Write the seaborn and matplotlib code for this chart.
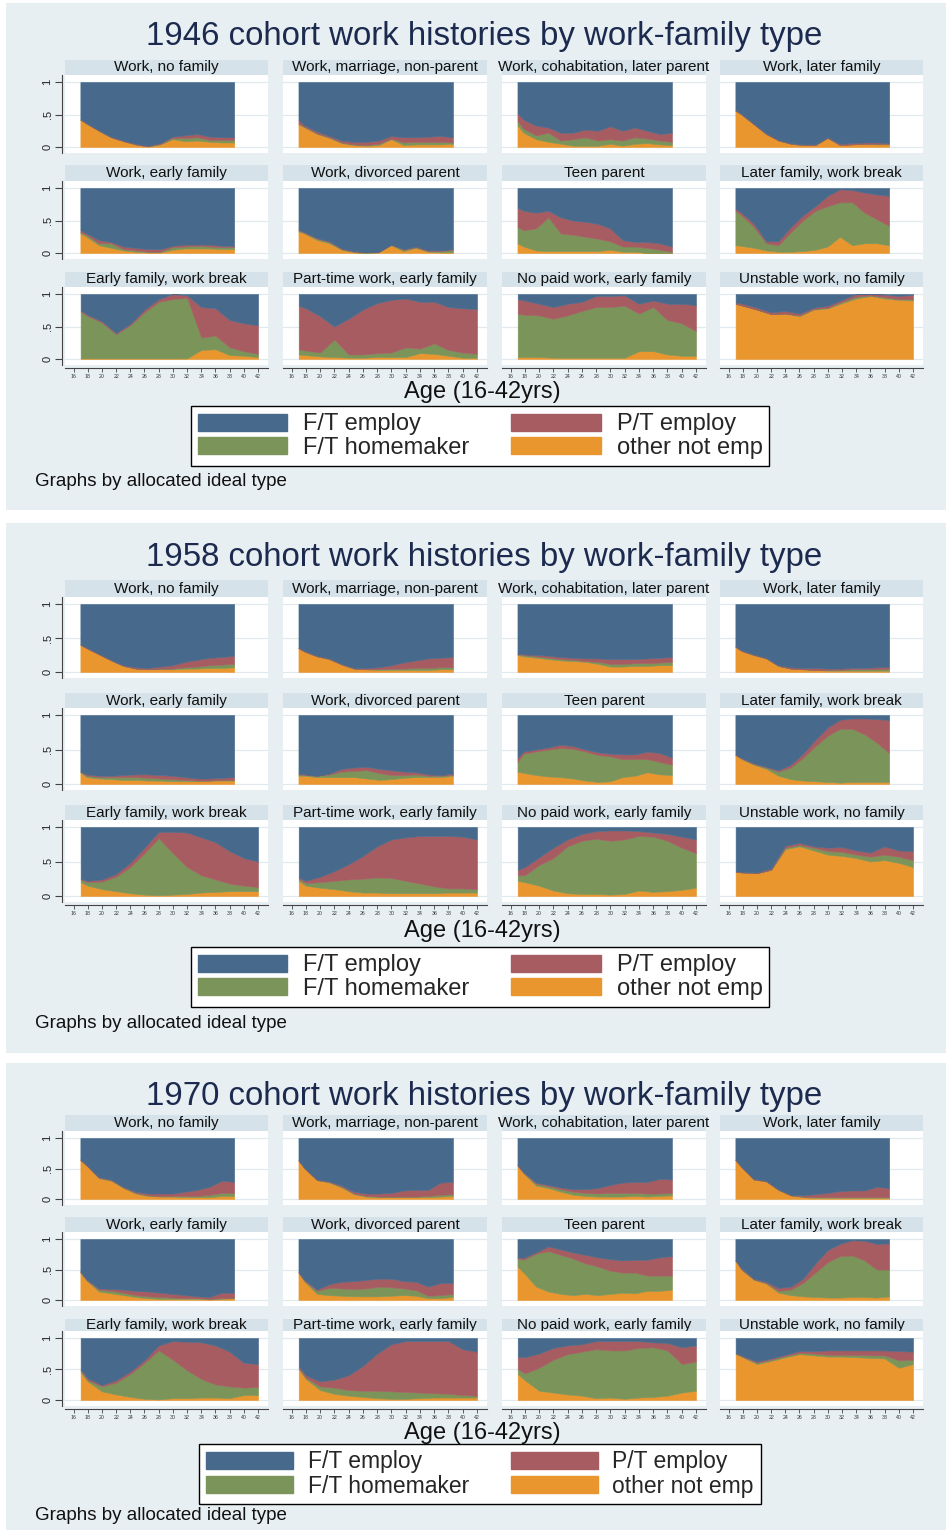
import numpy as np
import matplotlib
matplotlib.use("Agg")
import matplotlib.pyplot as plt
from matplotlib.patches import Rectangle, Patch
import seaborn as sns

sns.set_theme(style="white")
plt.rcParams['font.family'] = ['Liberation Sans', 'DejaVu Sans']

W, H = 948, 1532

# ---- data -------------------------------------------------------------
AGES = [17, 18, 20, 22, 24, 26, 28, 30, 32, 34, 36, 38, 40, 42]
XTICKS = list(range(16, 43, 2))
COHORTS = [1946, 1958, 1970]
TYPES = ["Work, no family", "Work, marriage, non-parent",
         "Work, cohabitation, later parent", "Work, later family",
         "Work, early family", "Work, divorced parent",
         "Teen parent", "Later family, work break",
         "Early family, work break", "Part-time work, early family",
         "No paid work, early family", "Unstable work, no family"]
LABELS = ["F/T employ", "F/T homemaker", "P/T employ", "other not emp"]

# shares by age, one row per type (F/T employ is the remainder up to 1)
OTHER_1946 = [
    [0.42, 0.36, 0.25, 0.15, 0.09, 0.04, 0.01, 0.04, 0.12, 0.09, 0.10, 0.08, 0.07, 0.07],
    [0.35, 0.30, 0.20, 0.14, 0.06, 0.03, 0.02, 0.03, 0.12, 0.03, 0.04, 0.04, 0.04, 0.05],
    [0.33, 0.22, 0.12, 0.08, 0.05, 0.02, 0.02, 0.02, 0.05, 0.02, 0.05, 0.06, 0.04, 0.03],
    [0.56, 0.50, 0.35, 0.20, 0.10, 0.05, 0.03, 0.03, 0.14, 0.03, 0.04, 0.05, 0.04, 0.04],
    [0.30, 0.25, 0.12, 0.08, 0.04, 0.02, 0.01, 0.01, 0.05, 0.07, 0.07, 0.07, 0.06, 0.06],
    [0.33, 0.30, 0.20, 0.15, 0.05, 0.01, 0.00, 0.01, 0.12, 0.03, 0.08, 0.02, 0.01, 0.01],
    [0.15, 0.10, 0.04, 0.03, 0.03, 0.03, 0.03, 0.03, 0.05, 0.02, 0.02, 0.00, 0.00, 0.00],
    [0.12, 0.11, 0.08, 0.04, 0.02, 0.02, 0.03, 0.05, 0.10, 0.25, 0.12, 0.15, 0.15, 0.12],
    [0.01, 0.01, 0.01, 0.01, 0.01, 0.01, 0.01, 0.01, 0.01, 0.14, 0.15, 0.06, 0.05, 0.03],
    [0.07, 0.06, 0.04, 0.03, 0.02, 0.02, 0.03, 0.03, 0.03, 0.09, 0.08, 0.05, 0.02, 0.02],
    [0.03, 0.03, 0.03, 0.02, 0.02, 0.02, 0.02, 0.02, 0.02, 0.12, 0.12, 0.07, 0.05, 0.05],
    [0.85, 0.82, 0.76, 0.69, 0.70, 0.66, 0.76, 0.78, 0.86, 0.93, 0.97, 0.93, 0.91, 0.90],
]
HOME_1946 = [
    [0.00, 0.00, 0.00, 0.00, 0.00, 0.00, 0.00, 0.01, 0.02, 0.05, 0.05, 0.03, 0.04, 0.04],
    [0.01, 0.01, 0.01, 0.01, 0.01, 0.01, 0.01, 0.02, 0.01, 0.04, 0.04, 0.04, 0.04, 0.02],
    [0.07, 0.06, 0.06, 0.14, 0.05, 0.10, 0.13, 0.08, 0.07, 0.08, 0.10, 0.07, 0.06, 0.05],
    [0.00, 0.00, 0.00, 0.00, 0.00, 0.00, 0.00, 0.00, 0.00, 0.00, 0.00, 0.00, 0.01, 0.01],
    [0.02, 0.03, 0.03, 0.07, 0.02, 0.02, 0.01, 0.01, 0.04, 0.03, 0.04, 0.03, 0.03, 0.03],
    [0.02, 0.01, 0.02, 0.02, 0.01, 0.01, 0.01, 0.01, 0.01, 0.02, 0.01, 0.01, 0.02, 0.04],
    [0.25, 0.25, 0.34, 0.52, 0.27, 0.25, 0.22, 0.19, 0.13, 0.08, 0.08, 0.08, 0.05, 0.02],
    [0.53, 0.47, 0.32, 0.11, 0.10, 0.30, 0.47, 0.60, 0.62, 0.53, 0.66, 0.47, 0.37, 0.30],
    [0.72, 0.65, 0.55, 0.37, 0.51, 0.71, 0.87, 0.91, 0.93, 0.19, 0.21, 0.12, 0.07, 0.05],
    [0.08, 0.07, 0.06, 0.27, 0.05, 0.05, 0.06, 0.07, 0.15, 0.07, 0.16, 0.09, 0.08, 0.06],
    [0.67, 0.65, 0.64, 0.60, 0.65, 0.72, 0.78, 0.78, 0.80, 0.58, 0.68, 0.53, 0.50, 0.38],
    [0.00, 0.00, 0.00, 0.00, 0.00, 0.01, 0.01, 0.01, 0.02, 0.03, 0.01, 0.02, 0.01, 0.02],
]
PT_1946 = [
    [0.01, 0.01, 0.01, 0.01, 0.01, 0.01, 0.01, 0.01, 0.02, 0.04, 0.05, 0.05, 0.04, 0.04],
    [0.06, 0.02, 0.03, 0.02, 0.03, 0.04, 0.05, 0.05, 0.04, 0.08, 0.07, 0.08, 0.09, 0.08],
    [0.12, 0.14, 0.15, 0.08, 0.12, 0.10, 0.12, 0.15, 0.20, 0.15, 0.15, 0.12, 0.10, 0.14],
    [0.01, 0.01, 0.01, 0.01, 0.01, 0.01, 0.01, 0.01, 0.01, 0.02, 0.02, 0.02, 0.02, 0.01],
    [0.03, 0.02, 0.05, 0.02, 0.04, 0.04, 0.04, 0.04, 0.02, 0.03, 0.02, 0.03, 0.02, 0.02],
    [0.01, 0.01, 0.01, 0.01, 0.01, 0.01, 0.00, 0.00, 0.00, 0.01, 0.01, 0.01, 0.01, 0.01],
    [0.30, 0.30, 0.24, 0.10, 0.25, 0.22, 0.23, 0.23, 0.20, 0.10, 0.07, 0.09, 0.10, 0.08],
    [0.03, 0.04, 0.05, 0.03, 0.06, 0.08, 0.08, 0.07, 0.16, 0.20, 0.19, 0.31, 0.38, 0.46],
    [0.02, 0.02, 0.02, 0.02, 0.02, 0.04, 0.04, 0.08, 0.04, 0.47, 0.42, 0.42, 0.43, 0.44],
    [0.67, 0.65, 0.56, 0.20, 0.55, 0.69, 0.77, 0.81, 0.75, 0.72, 0.64, 0.66, 0.68, 0.69],
    [0.22, 0.22, 0.18, 0.18, 0.18, 0.14, 0.17, 0.17, 0.16, 0.15, 0.10, 0.25, 0.30, 0.40],
    [0.02, 0.03, 0.03, 0.03, 0.04, 0.03, 0.02, 0.03, 0.03, 0.04, 0.02, 0.04, 0.05, 0.07],
]

OTHER_1958 = [
    [0.40, 0.35, 0.26, 0.17, 0.09, 0.05, 0.04, 0.04, 0.04, 0.05, 0.05, 0.06, 0.06, 0.07],
    [0.35, 0.30, 0.23, 0.19, 0.11, 0.05, 0.04, 0.03, 0.03, 0.03, 0.03, 0.03, 0.04, 0.04],
    [0.25, 0.23, 0.21, 0.19, 0.17, 0.16, 0.15, 0.12, 0.08, 0.08, 0.09, 0.09, 0.10, 0.10],
    [0.37, 0.31, 0.25, 0.20, 0.09, 0.05, 0.04, 0.03, 0.02, 0.02, 0.02, 0.02, 0.02, 0.02],
    [0.17, 0.10, 0.08, 0.07, 0.06, 0.06, 0.05, 0.05, 0.04, 0.04, 0.04, 0.05, 0.05, 0.05],
    [0.12, 0.12, 0.10, 0.10, 0.10, 0.10, 0.08, 0.06, 0.07, 0.09, 0.10, 0.10, 0.10, 0.12],
    [0.18, 0.16, 0.13, 0.11, 0.10, 0.08, 0.05, 0.03, 0.04, 0.10, 0.12, 0.17, 0.14, 0.13],
    [0.42, 0.36, 0.28, 0.22, 0.12, 0.07, 0.05, 0.04, 0.03, 0.02, 0.03, 0.03, 0.03, 0.03],
    [0.20, 0.15, 0.10, 0.07, 0.04, 0.02, 0.01, 0.02, 0.03, 0.05, 0.06, 0.07, 0.07, 0.07],
    [0.22, 0.15, 0.12, 0.10, 0.07, 0.05, 0.05, 0.04, 0.04, 0.04, 0.04, 0.05, 0.05, 0.05],
    [0.22, 0.20, 0.15, 0.08, 0.04, 0.03, 0.03, 0.02, 0.03, 0.08, 0.06, 0.07, 0.09, 0.12],
    [0.35, 0.34, 0.33, 0.38, 0.68, 0.72, 0.66, 0.60, 0.58, 0.55, 0.50, 0.52, 0.48, 0.42],
]
HOME_1958 = [
    [0.00, 0.00, 0.00, 0.00, 0.00, 0.00, 0.00, 0.01, 0.01, 0.02, 0.03, 0.04, 0.05, 0.05],
    [0.00, 0.00, 0.00, 0.00, 0.00, 0.00, 0.00, 0.01, 0.02, 0.02, 0.03, 0.03, 0.03, 0.03],
    [0.01, 0.02, 0.02, 0.02, 0.02, 0.02, 0.01, 0.03, 0.04, 0.04, 0.04, 0.04, 0.04, 0.05],
    [0.00, 0.00, 0.00, 0.00, 0.00, 0.00, 0.00, 0.00, 0.01, 0.01, 0.02, 0.02, 0.02, 0.03],
    [0.01, 0.02, 0.02, 0.03, 0.04, 0.04, 0.04, 0.03, 0.03, 0.02, 0.01, 0.00, 0.01, 0.01],
    [0.02, 0.01, 0.02, 0.04, 0.08, 0.09, 0.12, 0.10, 0.06, 0.04, 0.04, 0.02, 0.02, 0.01],
    [0.14, 0.28, 0.34, 0.39, 0.42, 0.43, 0.42, 0.39, 0.36, 0.26, 0.24, 0.19, 0.18, 0.15],
    [0.00, 0.01, 0.01, 0.02, 0.06, 0.17, 0.33, 0.51, 0.67, 0.78, 0.77, 0.69, 0.57, 0.42],
    [0.04, 0.05, 0.11, 0.21, 0.38, 0.60, 0.83, 0.60, 0.39, 0.25, 0.18, 0.11, 0.08, 0.06],
    [0.03, 0.04, 0.08, 0.12, 0.17, 0.20, 0.22, 0.22, 0.18, 0.14, 0.10, 0.06, 0.06, 0.05],
    [0.08, 0.10, 0.30, 0.47, 0.68, 0.77, 0.80, 0.78, 0.79, 0.79, 0.80, 0.73, 0.61, 0.50],
    [0.00, 0.00, 0.00, 0.00, 0.02, 0.02, 0.04, 0.05, 0.06, 0.05, 0.07, 0.08, 0.09, 0.10],
]
PT_1958 = [
    [0.01, 0.01, 0.01, 0.01, 0.01, 0.02, 0.02, 0.03, 0.05, 0.08, 0.10, 0.11, 0.11, 0.12],
    [0.01, 0.01, 0.01, 0.01, 0.01, 0.01, 0.02, 0.03, 0.05, 0.09, 0.11, 0.14, 0.14, 0.15],
    [0.01, 0.01, 0.02, 0.03, 0.03, 0.03, 0.04, 0.05, 0.07, 0.07, 0.06, 0.07, 0.07, 0.07],
    [0.01, 0.01, 0.01, 0.01, 0.01, 0.02, 0.02, 0.03, 0.02, 0.02, 0.02, 0.02, 0.03, 0.03],
    [0.00, 0.02, 0.02, 0.02, 0.03, 0.04, 0.05, 0.05, 0.05, 0.04, 0.03, 0.03, 0.03, 0.04],
    [0.01, 0.01, 0.00, 0.01, 0.04, 0.05, 0.05, 0.06, 0.07, 0.05, 0.03, 0.02, 0.01, 0.02],
    [0.06, 0.03, 0.03, 0.03, 0.05, 0.04, 0.03, 0.04, 0.04, 0.07, 0.07, 0.11, 0.13, 0.10],
    [0.01, 0.01, 0.01, 0.01, 0.02, 0.04, 0.06, 0.09, 0.12, 0.13, 0.15, 0.23, 0.34, 0.48],
    [0.01, 0.02, 0.03, 0.04, 0.06, 0.08, 0.09, 0.31, 0.50, 0.55, 0.54, 0.47, 0.40, 0.37],
    [0.02, 0.03, 0.08, 0.14, 0.22, 0.33, 0.45, 0.56, 0.63, 0.69, 0.73, 0.76, 0.75, 0.72],
    [0.08, 0.12, 0.11, 0.15, 0.10, 0.10, 0.11, 0.15, 0.13, 0.07, 0.06, 0.10, 0.16, 0.20],
    [0.01, 0.01, 0.01, 0.02, 0.03, 0.03, 0.02, 0.05, 0.07, 0.06, 0.06, 0.12, 0.09, 0.13],
]

OTHER_1970 = [
    [0.64, 0.55, 0.34, 0.30, 0.18, 0.09, 0.05, 0.04, 0.04, 0.03, 0.03, 0.03, 0.05, 0.05],
    [0.63, 0.50, 0.31, 0.27, 0.19, 0.08, 0.04, 0.03, 0.03, 0.03, 0.03, 0.03, 0.04, 0.05],
    [0.55, 0.42, 0.22, 0.18, 0.12, 0.07, 0.05, 0.04, 0.04, 0.04, 0.05, 0.04, 0.05, 0.06],
    [0.64, 0.52, 0.32, 0.29, 0.15, 0.06, 0.03, 0.02, 0.02, 0.02, 0.02, 0.02, 0.02, 0.02],
    [0.45, 0.32, 0.14, 0.11, 0.08, 0.05, 0.03, 0.02, 0.02, 0.02, 0.02, 0.01, 0.02, 0.03],
    [0.45, 0.30, 0.10, 0.08, 0.07, 0.06, 0.06, 0.06, 0.07, 0.08, 0.07, 0.03, 0.03, 0.05],
    [0.55, 0.45, 0.22, 0.14, 0.10, 0.08, 0.10, 0.08, 0.10, 0.12, 0.11, 0.15, 0.15, 0.17],
    [0.65, 0.50, 0.33, 0.27, 0.12, 0.08, 0.06, 0.05, 0.04, 0.04, 0.05, 0.05, 0.04, 0.06],
    [0.45, 0.30, 0.14, 0.09, 0.05, 0.02, 0.01, 0.03, 0.03, 0.04, 0.04, 0.03, 0.08, 0.08],
    [0.50, 0.34, 0.16, 0.10, 0.07, 0.05, 0.03, 0.02, 0.02, 0.03, 0.04, 0.04, 0.04, 0.04],
    [0.42, 0.32, 0.15, 0.12, 0.09, 0.07, 0.03, 0.04, 0.02, 0.04, 0.05, 0.07, 0.12, 0.15],
    [0.75, 0.69, 0.58, 0.63, 0.69, 0.74, 0.72, 0.70, 0.70, 0.69, 0.68, 0.67, 0.52, 0.58],
]
HOME_1970 = [
    [0.00, 0.00, 0.01, 0.01, 0.01, 0.01, 0.01, 0.01, 0.01, 0.02, 0.02, 0.04, 0.05, 0.05],
    [0.00, 0.00, 0.00, 0.01, 0.01, 0.01, 0.01, 0.01, 0.01, 0.01, 0.01, 0.02, 0.03, 0.03],
    [0.00, 0.01, 0.03, 0.03, 0.04, 0.05, 0.05, 0.05, 0.06, 0.06, 0.05, 0.05, 0.04, 0.04],
    [0.00, 0.00, 0.00, 0.00, 0.00, 0.00, 0.01, 0.01, 0.01, 0.01, 0.01, 0.01, 0.01, 0.01],
    [0.01, 0.01, 0.03, 0.04, 0.04, 0.03, 0.03, 0.03, 0.02, 0.01, 0.01, 0.01, 0.01, 0.01],
    [0.00, 0.01, 0.05, 0.12, 0.12, 0.12, 0.13, 0.16, 0.14, 0.11, 0.09, 0.04, 0.05, 0.05],
    [0.13, 0.21, 0.54, 0.66, 0.64, 0.60, 0.50, 0.47, 0.38, 0.33, 0.34, 0.25, 0.25, 0.23],
    [0.00, 0.00, 0.01, 0.01, 0.03, 0.09, 0.22, 0.40, 0.58, 0.68, 0.68, 0.60, 0.46, 0.44],
    [0.03, 0.02, 0.08, 0.19, 0.37, 0.58, 0.79, 0.62, 0.45, 0.30, 0.21, 0.19, 0.12, 0.13],
    [0.02, 0.02, 0.06, 0.10, 0.09, 0.10, 0.12, 0.12, 0.11, 0.09, 0.07, 0.06, 0.04, 0.03],
    [0.08, 0.11, 0.37, 0.53, 0.65, 0.71, 0.79, 0.76, 0.78, 0.80, 0.80, 0.73, 0.46, 0.47],
    [0.00, 0.01, 0.02, 0.02, 0.02, 0.02, 0.03, 0.03, 0.03, 0.04, 0.04, 0.05, 0.12, 0.07],
]
PT_1970 = [
    [0.01, 0.01, 0.01, 0.01, 0.01, 0.02, 0.03, 0.04, 0.04, 0.07, 0.10, 0.13, 0.20, 0.18],
    [0.01, 0.01, 0.01, 0.01, 0.02, 0.03, 0.04, 0.05, 0.06, 0.10, 0.11, 0.10, 0.20, 0.20],
    [0.01, 0.01, 0.02, 0.02, 0.03, 0.04, 0.06, 0.09, 0.13, 0.17, 0.18, 0.19, 0.24, 0.22],
    [0.01, 0.01, 0.01, 0.01, 0.01, 0.01, 0.02, 0.05, 0.07, 0.10, 0.11, 0.11, 0.17, 0.15],
    [0.01, 0.01, 0.02, 0.03, 0.05, 0.07, 0.08, 0.07, 0.06, 0.05, 0.03, 0.03, 0.09, 0.08],
    [0.01, 0.02, 0.02, 0.06, 0.11, 0.13, 0.14, 0.13, 0.14, 0.12, 0.14, 0.15, 0.20, 0.18],
    [0.02, 0.03, 0.02, 0.08, 0.09, 0.10, 0.14, 0.15, 0.19, 0.20, 0.21, 0.26, 0.30, 0.32],
    [0.00, 0.02, 0.01, 0.02, 0.05, 0.05, 0.07, 0.15, 0.20, 0.20, 0.25, 0.32, 0.42, 0.43],
    [0.02, 0.03, 0.02, 0.04, 0.04, 0.04, 0.08, 0.30, 0.46, 0.59, 0.63, 0.56, 0.40, 0.37],
    [0.03, 0.04, 0.08, 0.13, 0.24, 0.40, 0.60, 0.76, 0.82, 0.83, 0.84, 0.85, 0.74, 0.71],
    [0.20, 0.26, 0.23, 0.19, 0.14, 0.12, 0.13, 0.15, 0.15, 0.11, 0.08, 0.12, 0.27, 0.26],
    [0.01, 0.01, 0.02, 0.02, 0.02, 0.03, 0.04, 0.07, 0.07, 0.07, 0.08, 0.08, 0.15, 0.13],
]

DATA = {1946: (OTHER_1946, HOME_1946, PT_1946),
        1958: (OTHER_1958, HOME_1958, PT_1958),
        1970: (OTHER_1970, HOME_1970, PT_1970)}

# ---- style ------------------------------------------------------------
BLUE = '#476a8c'
RED = '#a65c61'
GREEN = '#7a9459'
ORANGE = '#e9962f'
PANEL_BG = '#e8eff2'
BAR_BG = '#d5e2e9'
GRID = '#e1e9ee'
TITLE_C = '#1b2a4e'

# ---- layout (pixels) --------------------------------------------------
BLOCKS = [(3, 510), (523, 1053), (1063, 1530)]
TITLE_Y = [37, 557, 1096]
BAR_TOP = [[60, 165, 272], [580, 693, 805], [1115, 1217, 1319]]
Y_ONE = [[82, 188, 294], [604, 715, 827], [1138, 1239, 1338]]
Y_ZERO = [[147, 253, 359], [672, 784, 896], [1199, 1300, 1400]]
XLAB_Y = [392, 931, 1433]
LEG_Y = [436, 977, 1474]
LEG_FONT = [17, 17, 16.5]
NOTE_Y = [481, 1024, 1515]
COL_X = [(65, 268), (283, 487), (502, 706), (720, 923)]
XLIM_UPPER = (14.5, 47.5)
XLIM_LOWER = (14.8, 43.4)


def fig_rect(x0, y0, x1, y1):
    return [x0 / W, 1 - y1 / H, (x1 - x0) / W, (y1 - y0) / H]


fig = plt.figure(figsize=(W / 100, H / 100), dpi=100, facecolor='white')

for b, year in enumerate(COHORTS):
    top, bottom = BLOCKS[b]
    fig.patches.append(Rectangle((6 / W, 1 - bottom / H), 940 / W, (bottom - top) / H,
                                 transform=fig.transFigure, facecolor=PANEL_BG,
                                 edgecolor='none', zorder=-1))
    fig.text(484 / W, 1 - TITLE_Y[b] / H,
             f"{year} cohort work histories by work-family type",
             ha='center', va='center', fontsize=23.8, color=TITLE_C)

    other_rows, home_rows, pt_rows = DATA[year]
    for j, name in enumerate(TYPES):
        r, c = divmod(j, 4)
        x0, x1 = COL_X[c]
        y1, y0 = Y_ONE[b][r], Y_ZERO[b][r]
        bar_bottom = y1 - 7
        plot_bottom = y0 + 6
        unit = y0 - y1

        # title strip
        axt = fig.add_axes(fig_rect(x0, BAR_TOP[b][r], x1, bar_bottom))
        axt.set_facecolor(BAR_BG)
        axt.set_xticks([])
        axt.set_yticks([])
        for s in axt.spines.values():
            s.set_visible(False)
        axt.text(0.5, 0.5, name, ha='center', va='center', fontsize=11,
                 color='#111111', transform=axt.transAxes, clip_on=False)

        # stacked area
        ax = fig.add_axes(fig_rect(x0, bar_bottom, x1, plot_bottom))
        ax.set_facecolor('white')
        other = np.array(other_rows[j])
        home = np.array(home_rows[j])
        pt = np.array(pt_rows[j])
        ft = np.clip(1 - other - home - pt, 0, None)
        for v in (0, 0.5, 1):
            ax.axhline(v, color=GRID, lw=0.9, zorder=0.5)
        ax.stackplot(AGES, other, home, pt, ft,
                     colors=[ORANGE, GREEN, RED, BLUE],
                     linewidth=0.4, edgecolor='face', zorder=1)
        ax.set_xlim(XLIM_LOWER if r == 2 else XLIM_UPPER)
        ax.set_ylim(-(plot_bottom - y0) / unit, 1 + (y1 - bar_bottom) / unit)
        for s in ax.spines.values():
            s.set_visible(False)

        if c == 0:
            ax.spines['left'].set_visible(True)
            ax.spines['left'].set_position(('outward', 2))
            ax.spines['left'].set_color('#444444')
            ax.spines['left'].set_linewidth(0.8)
            ax.set_yticks([0, 0.5, 1])
            ax.set_yticklabels(['0', '.5', '1'], rotation=90, va='center', fontsize=8)
            ax.tick_params(axis='y', left=True, length=5, width=0.8,
                           color='#444444', pad=2, labelcolor='#222222')
        else:
            ax.set_yticks([])

        if r == 2:
            ax.spines['bottom'].set_visible(True)
            ax.spines['bottom'].set_position(('outward', 2))
            ax.spines['bottom'].set_color('#444444')
            ax.spines['bottom'].set_linewidth(0.8)
            ax.set_xticks(XTICKS)
            ax.set_xticklabels([str(t) for t in XTICKS], fontsize=3.8)
            ax.tick_params(axis='x', bottom=True, length=3, width=0.6,
                           color='#444444', pad=1.5, labelcolor='#333333')
        else:
            ax.set_xticks([])

    fig.text(482 / W, 1 - XLAB_Y[b] / H, "Age (16-42yrs)", ha='center',
             va='center', fontsize=17, color='#111111')

    handles = [Patch(facecolor=BLUE, edgecolor=BLUE), Patch(facecolor=GREEN, edgecolor=GREEN),
               Patch(facecolor=RED, edgecolor=RED), Patch(facecolor=ORANGE, edgecolor=ORANGE)]
    leg = fig.legend(handles=handles, labels=LABELS, loc='center',
                     bbox_to_anchor=(480 / W, 1 - LEG_Y[b] / H), ncol=2,
                     fontsize=LEG_FONT[b], frameon=True, fancybox=False,
                     edgecolor='black', framealpha=1, handlelength=3.8,
                     handleheight=0.72, handletextpad=0.65, columnspacing=1.8,
                     labelspacing=0.05, borderpad=0.3, borderaxespad=0)
    leg.get_frame().set_linewidth(1.0)

    fig.text(35 / W, 1 - NOTE_Y[b] / H, "Graphs by allocated ideal type",
             ha='left', va='center', fontsize=13.5, color='#111111')

fig.savefig('out.png', dpi=100)
